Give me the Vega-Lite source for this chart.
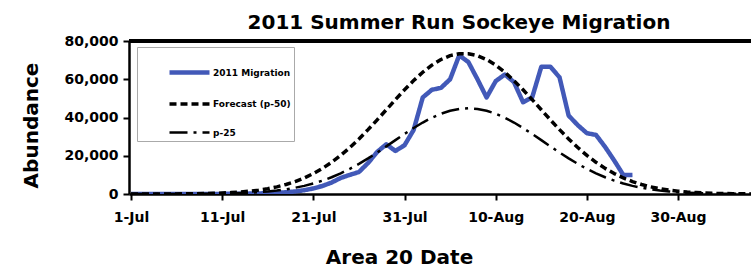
{
  "$schema": "https://vega.github.io/schema/vega-lite/v6.json",
  "width": 622,
  "height": 153,
  "autosize": "none",
  "padding": {"left": 129, "top": 41, "right": 0, "bottom": 78},
  "background": "white",
  "title": {"text": "2011 Summer Run Sockeye Migration", "font": "DejaVu Sans", "fontSize": 20, "fontWeight": "bold", "color": "black", "anchor": "middle", "frame": "group", "baseline": "alphabetic", "offset": 12, "dx": 19, "dy": 27},
  "data": {
    "format": {"parse": {"d": "utc:'%Y-%m-%d'"}},
    "values": [
      {"d":"2011-07-01","s":"2011 Migration","v":0},{"d":"2011-07-02","s":"2011 Migration","v":0},{"d":"2011-07-03","s":"2011 Migration","v":0},{"d":"2011-07-04","s":"2011 Migration","v":0},{"d":"2011-07-05","s":"2011 Migration","v":0},{"d":"2011-07-06","s":"2011 Migration","v":0},{"d":"2011-07-07","s":"2011 Migration","v":0},{"d":"2011-07-08","s":"2011 Migration","v":0},{"d":"2011-07-09","s":"2011 Migration","v":0},{"d":"2011-07-10","s":"2011 Migration","v":0},
      {"d":"2011-07-11","s":"2011 Migration","v":50},{"d":"2011-07-12","s":"2011 Migration","v":100},{"d":"2011-07-13","s":"2011 Migration","v":150},{"d":"2011-07-14","s":"2011 Migration","v":200},{"d":"2011-07-15","s":"2011 Migration","v":300},{"d":"2011-07-16","s":"2011 Migration","v":400},{"d":"2011-07-17","s":"2011 Migration","v":600},{"d":"2011-07-18","s":"2011 Migration","v":900},{"d":"2011-07-19","s":"2011 Migration","v":1300},{"d":"2011-07-20","s":"2011 Migration","v":2000},
      {"d":"2011-07-21","s":"2011 Migration","v":2900},{"d":"2011-07-22","s":"2011 Migration","v":4200},{"d":"2011-07-23","s":"2011 Migration","v":6000},{"d":"2011-07-24","s":"2011 Migration","v":8400},{"d":"2011-07-25","s":"2011 Migration","v":10000},{"d":"2011-07-26","s":"2011 Migration","v":11500},{"d":"2011-07-27","s":"2011 Migration","v":16200},{"d":"2011-07-28","s":"2011 Migration","v":22000},{"d":"2011-07-29","s":"2011 Migration","v":26000},{"d":"2011-07-30","s":"2011 Migration","v":22500},
      {"d":"2011-07-31","s":"2011 Migration","v":25500},{"d":"2011-08-01","s":"2011 Migration","v":33500},{"d":"2011-08-02","s":"2011 Migration","v":50500},{"d":"2011-08-03","s":"2011 Migration","v":54500},{"d":"2011-08-04","s":"2011 Migration","v":55500},{"d":"2011-08-05","s":"2011 Migration","v":60000},{"d":"2011-08-06","s":"2011 Migration","v":72500},{"d":"2011-08-07","s":"2011 Migration","v":69000},{"d":"2011-08-08","s":"2011 Migration","v":60000},{"d":"2011-08-09","s":"2011 Migration","v":50500},
      {"d":"2011-08-10","s":"2011 Migration","v":59000},{"d":"2011-08-11","s":"2011 Migration","v":62500},{"d":"2011-08-12","s":"2011 Migration","v":58500},{"d":"2011-08-13","s":"2011 Migration","v":48000},{"d":"2011-08-14","s":"2011 Migration","v":50500},{"d":"2011-08-15","s":"2011 Migration","v":66500},{"d":"2011-08-16","s":"2011 Migration","v":66500},{"d":"2011-08-17","s":"2011 Migration","v":61000},{"d":"2011-08-18","s":"2011 Migration","v":41000},{"d":"2011-08-19","s":"2011 Migration","v":36000},
      {"d":"2011-08-20","s":"2011 Migration","v":31800},{"d":"2011-08-21","s":"2011 Migration","v":30900},{"d":"2011-08-22","s":"2011 Migration","v":24600},{"d":"2011-08-23","s":"2011 Migration","v":17500},{"d":"2011-08-24","s":"2011 Migration","v":9900},{"d":"2011-08-25","s":"2011 Migration","v":10000},

      {"d":"2011-07-01","s":"Forecast (p-50)","v":5},{"d":"2011-07-02","s":"Forecast (p-50)","v":10},{"d":"2011-07-03","s":"Forecast (p-50)","v":15},{"d":"2011-07-04","s":"Forecast (p-50)","v":25},{"d":"2011-07-05","s":"Forecast (p-50)","v":40},{"d":"2011-07-06","s":"Forecast (p-50)","v":65},{"d":"2011-07-07","s":"Forecast (p-50)","v":100},{"d":"2011-07-08","s":"Forecast (p-50)","v":155},{"d":"2011-07-09","s":"Forecast (p-50)","v":230},{"d":"2011-07-10","s":"Forecast (p-50)","v":345},
      {"d":"2011-07-11","s":"Forecast (p-50)","v":510},{"d":"2011-07-12","s":"Forecast (p-50)","v":730},{"d":"2011-07-13","s":"Forecast (p-50)","v":1040},{"d":"2011-07-14","s":"Forecast (p-50)","v":1470},{"d":"2011-07-15","s":"Forecast (p-50)","v":2030},{"d":"2011-07-16","s":"Forecast (p-50)","v":2780},{"d":"2011-07-17","s":"Forecast (p-50)","v":3740},{"d":"2011-07-18","s":"Forecast (p-50)","v":4970},{"d":"2011-07-19","s":"Forecast (p-50)","v":6500},{"d":"2011-07-20","s":"Forecast (p-50)","v":8390},
      {"d":"2011-07-21","s":"Forecast (p-50)","v":10680},{"d":"2011-07-22","s":"Forecast (p-50)","v":13400},{"d":"2011-07-23","s":"Forecast (p-50)","v":16570},{"d":"2011-07-24","s":"Forecast (p-50)","v":20200},{"d":"2011-07-25","s":"Forecast (p-50)","v":24290},{"d":"2011-07-26","s":"Forecast (p-50)","v":28790},{"d":"2011-07-27","s":"Forecast (p-50)","v":33650},{"d":"2011-07-28","s":"Forecast (p-50)","v":38770},{"d":"2011-07-29","s":"Forecast (p-50)","v":44050},{"d":"2011-07-30","s":"Forecast (p-50)","v":49340},
      {"d":"2011-07-31","s":"Forecast (p-50)","v":54490},{"d":"2011-08-01","s":"Forecast (p-50)","v":59310},{"d":"2011-08-02","s":"Forecast (p-50)","v":63670},{"d":"2011-08-03","s":"Forecast (p-50)","v":67390},{"d":"2011-08-04","s":"Forecast (p-50)","v":70320},{"d":"2011-08-05","s":"Forecast (p-50)","v":72340},{"d":"2011-08-06","s":"Forecast (p-50)","v":73370},{"d":"2011-08-07","s":"Forecast (p-50)","v":73370},{"d":"2011-08-08","s":"Forecast (p-50)","v":72340},{"d":"2011-08-09","s":"Forecast (p-50)","v":70320},
      {"d":"2011-08-10","s":"Forecast (p-50)","v":67390},{"d":"2011-08-11","s":"Forecast (p-50)","v":63670},{"d":"2011-08-12","s":"Forecast (p-50)","v":59310},{"d":"2011-08-13","s":"Forecast (p-50)","v":54490},{"d":"2011-08-14","s":"Forecast (p-50)","v":49340},{"d":"2011-08-15","s":"Forecast (p-50)","v":44050},{"d":"2011-08-16","s":"Forecast (p-50)","v":38770},{"d":"2011-08-17","s":"Forecast (p-50)","v":33650},{"d":"2011-08-18","s":"Forecast (p-50)","v":28790},{"d":"2011-08-19","s":"Forecast (p-50)","v":24290},
      {"d":"2011-08-20","s":"Forecast (p-50)","v":20200},{"d":"2011-08-21","s":"Forecast (p-50)","v":16570},{"d":"2011-08-22","s":"Forecast (p-50)","v":13400},{"d":"2011-08-23","s":"Forecast (p-50)","v":10680},{"d":"2011-08-24","s":"Forecast (p-50)","v":8390},{"d":"2011-08-25","s":"Forecast (p-50)","v":6500},{"d":"2011-08-26","s":"Forecast (p-50)","v":4970},{"d":"2011-08-27","s":"Forecast (p-50)","v":3740},{"d":"2011-08-28","s":"Forecast (p-50)","v":2780},{"d":"2011-08-29","s":"Forecast (p-50)","v":2030},
      {"d":"2011-08-30","s":"Forecast (p-50)","v":1470},{"d":"2011-08-31","s":"Forecast (p-50)","v":1040},{"d":"2011-09-01","s":"Forecast (p-50)","v":730},{"d":"2011-09-02","s":"Forecast (p-50)","v":510},{"d":"2011-09-03","s":"Forecast (p-50)","v":345},{"d":"2011-09-04","s":"Forecast (p-50)","v":230},{"d":"2011-09-05","s":"Forecast (p-50)","v":155},{"d":"2011-09-06","s":"Forecast (p-50)","v":100},{"d":"2011-09-07","s":"Forecast (p-50)","v":65},

      {"d":"2011-07-01","s":"p-25","v":0},{"d":"2011-07-02","s":"p-25","v":0},{"d":"2011-07-03","s":"p-25","v":5},{"d":"2011-07-04","s":"p-25","v":10},{"d":"2011-07-05","s":"p-25","v":15},{"d":"2011-07-06","s":"p-25","v":25},{"d":"2011-07-07","s":"p-25","v":40},{"d":"2011-07-08","s":"p-25","v":65},{"d":"2011-07-09","s":"p-25","v":100},{"d":"2011-07-10","s":"p-25","v":150},
      {"d":"2011-07-11","s":"p-25","v":225},{"d":"2011-07-12","s":"p-25","v":330},{"d":"2011-07-13","s":"p-25","v":480},{"d":"2011-07-14","s":"p-25","v":685},{"d":"2011-07-15","s":"p-25","v":965},{"d":"2011-07-16","s":"p-25","v":1340},{"d":"2011-07-17","s":"p-25","v":1830},{"d":"2011-07-18","s":"p-25","v":2460},{"d":"2011-07-19","s":"p-25","v":3260},{"d":"2011-07-20","s":"p-25","v":4260},
      {"d":"2011-07-21","s":"p-25","v":5500},{"d":"2011-07-22","s":"p-25","v":6990},{"d":"2011-07-23","s":"p-25","v":8750},{"d":"2011-07-24","s":"p-25","v":10800},{"d":"2011-07-25","s":"p-25","v":13140},{"d":"2011-07-26","s":"p-25","v":15750},{"d":"2011-07-27","s":"p-25","v":18610},{"d":"2011-07-28","s":"p-25","v":21680},{"d":"2011-07-29","s":"p-25","v":24890},{"d":"2011-07-30","s":"p-25","v":28160},
      {"d":"2011-07-31","s":"p-25","v":31390},{"d":"2011-08-01","s":"p-25","v":34500},{"d":"2011-08-02","s":"p-25","v":37360},{"d":"2011-08-03","s":"p-25","v":39890},{"d":"2011-08-04","s":"p-25","v":41970},{"d":"2011-08-05","s":"p-25","v":43520},{"d":"2011-08-06","s":"p-25","v":44480},{"d":"2011-08-07","s":"p-25","v":44800},{"d":"2011-08-08","s":"p-25","v":44480},{"d":"2011-08-09","s":"p-25","v":43520},
      {"d":"2011-08-10","s":"p-25","v":41970},{"d":"2011-08-11","s":"p-25","v":39890},{"d":"2011-08-12","s":"p-25","v":37360},{"d":"2011-08-13","s":"p-25","v":34500},{"d":"2011-08-14","s":"p-25","v":31390},{"d":"2011-08-15","s":"p-25","v":28160},{"d":"2011-08-16","s":"p-25","v":24890},{"d":"2011-08-17","s":"p-25","v":21680},{"d":"2011-08-18","s":"p-25","v":18610},{"d":"2011-08-19","s":"p-25","v":15750},
      {"d":"2011-08-20","s":"p-25","v":13140},{"d":"2011-08-21","s":"p-25","v":10800},{"d":"2011-08-22","s":"p-25","v":8750},{"d":"2011-08-23","s":"p-25","v":6990},{"d":"2011-08-24","s":"p-25","v":5500},{"d":"2011-08-25","s":"p-25","v":4260},{"d":"2011-08-26","s":"p-25","v":3260},{"d":"2011-08-27","s":"p-25","v":2460},{"d":"2011-08-28","s":"p-25","v":1830},{"d":"2011-08-29","s":"p-25","v":1340},
      {"d":"2011-08-30","s":"p-25","v":965},{"d":"2011-08-31","s":"p-25","v":685},{"d":"2011-09-01","s":"p-25","v":480},{"d":"2011-09-02","s":"p-25","v":330},{"d":"2011-09-03","s":"p-25","v":225},{"d":"2011-09-04","s":"p-25","v":150},{"d":"2011-09-05","s":"p-25","v":100},{"d":"2011-09-06","s":"p-25","v":65},{"d":"2011-09-07","s":"p-25","v":40}
    ]
  },
  "layer": [
    {
      "mark": {"type": "line", "clip": true, "strokeCap": "butt", "strokeJoin": "round"},
      "encoding": {
        "x": {
          "field": "d", "type": "temporal",
          "scale": {"type": "utc", "domain": [{"year": 2011, "month": 6, "date": 30, "hours": 18, "minutes": 45, "utc": true}, {"year": 2011, "month": 9, "date": 7, "utc": true}]},
          "axis": {
            "title": "Area 20 Date",
            "values": [
              {"year": 2011, "month": 7, "date": 1, "utc": true},
              {"year": 2011, "month": 7, "date": 11, "utc": true},
              {"year": 2011, "month": 7, "date": 21, "utc": true},
              {"year": 2011, "month": 7, "date": 31, "utc": true},
              {"year": 2011, "month": 8, "date": 10, "utc": true},
              {"year": 2011, "month": 8, "date": 20, "utc": true},
              {"year": 2011, "month": 8, "date": 30, "utc": true}
            ],
            "labelExpr": "utcFormat(datum.value, '%-d-%b')"
          }
        },
        "y": {
          "field": "v", "type": "quantitative",
          "scale": {"domain": [0, 80000], "nice": false},
          "axis": {"title": "Abundance", "values": [0, 20000, 40000, 60000, 80000], "labelExpr": "format(datum.value, ',')"}
        },
        "color": {
          "field": "s", "type": "nominal",
          "scale": {"domain": ["2011 Migration", "Forecast (p-50)", "p-25"], "range": ["#4259B8", "#000000", "#000000"]},
          "legend": {
            "title": null,
            "symbolType": "stroke",
            "symbolSize": 1600,
            "rowPadding": -25,
            "encode": {"symbols": {"update": {
              "strokeWidth": {"signal": "datum.value === '2011 Migration' ? 4.5 : 2.5"},
              "strokeDash": {"signal": "datum.value === 'Forecast (p-50)' ? [7, 4] : datum.value === 'p-25' ? [18, 6, 3, 6] : [1, 0]"}
            }}}
          }
        },
        "strokeDash": {
          "field": "s", "type": "nominal",
          "scale": {"domain": ["2011 Migration", "Forecast (p-50)", "p-25"], "range": [[1, 0], [7, 4], [18, 6, 3, 6]]},
          "legend": null
        },
        "strokeWidth": {
          "field": "s", "type": "ordinal",
          "scale": {"domain": ["2011 Migration", "Forecast (p-50)", "p-25"], "range": [4.5, 2.5, 2.5]},
          "legend": null
        }
      }
    },
    {
      "mark": {"type": "rule", "color": "black", "strokeWidth": 2.5},
      "encoding": {"y": {"datum": 80000, "type": "quantitative", "axis": null}}
    }
  ],
  "resolve": {"axis": {"y": "independent"}},
  "config": {
    "view": {"stroke": null},
    "font": "DejaVu Sans",
    "axis": {
      "domainColor": "black", "domainWidth": 2.5, "tickColor": "black", "tickWidth": 2, "tickSize": 6, "grid": false,
      "labelFont": "DejaVu Sans", "labelFontSize": 14, "labelFontWeight": "bold", "labelColor": "black",
      "titleFont": "DejaVu Sans", "titleFontSize": 20, "titleFontWeight": "bold", "titleColor": "black"
    },
    "axisX": {"labelPadding": 10, "titleX": 270, "titleY": 69, "titleBaseline": "alphabetic", "titleAlign": "center", "labelFlush": false, "labelOverlap": false, "labelBound": false},
    "axisY": {"labelPadding": 5, "titleX": -92, "titleY": 84, "titleAngle": -90, "titleBaseline": "alphabetic", "titleAlign": "center"},
    "legend": {
      "orient": "none", "legendX": 8, "legendY": 6, "padding": 3,
      "strokeColor": "#aaaaaa", "fillColor": "white",
      "labelFont": "DejaVu Sans", "labelFontSize": 9, "labelFontWeight": "bold", "labelColor": "black",
      "symbolOffset": 27, "labelOffset": 1
    }
  }
}
